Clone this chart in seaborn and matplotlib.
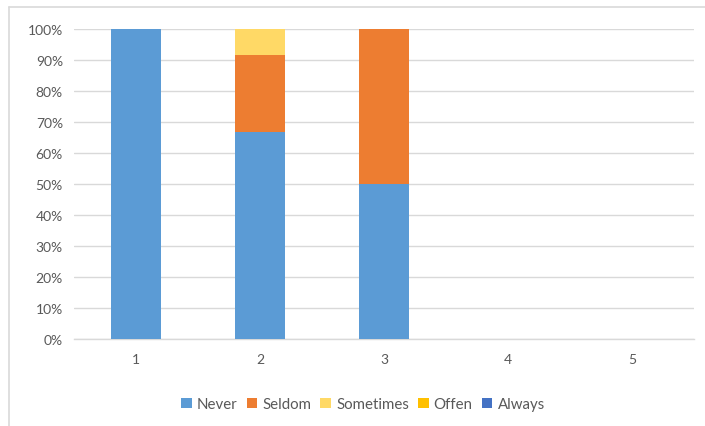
import matplotlib
matplotlib.use("Agg")
import matplotlib.pyplot as plt
import seaborn as sns
import pandas as pd
import numpy as np
from matplotlib.lines import Line2D
from matplotlib.patches import Patch

categories = ["1", "2", "3", "4", "5"]
never = [100, 66.7, 50, 0, 0]
seldom = [0, 25.0, 50, 0, 0]
sometimes = [0, 8.3, 0, 0, 0]
offen = [0, 0, 0, 0, 0]
always = [0, 0, 0, 0, 0]
series_names = ["Never", "Seldom", "Sometimes", "Offen", "Always"]
colors = ["#5B9BD5", "#ED7D31", "#FFD966", "#FFC000", "#4472C4"]

sns.set_theme(style="white")
plt.rcParams["font.family"] = ["Lato", "DejaVu Sans"]

series = [never, seldom, sometimes, offen, always]
cum = np.cumsum(np.array(series), axis=0)

fig = plt.figure(figsize=(7.05, 4.27), dpi=100)
ax = fig.add_axes([74/705, 1-340/427, 620/705, 310/427])

# draw from top of stack down so lower segments cover upper ones
for i in range(len(series) - 1, -1, -1):
    df = pd.DataFrame({"cat": categories, "val": cum[i]})
    sns.barplot(data=df, x="cat", y="val", order=categories, color=colors[i],
                saturation=1, width=0.4, ax=ax, zorder=3, errorbar=None,
                linewidth=0, edgecolor="none")

ax.set_ylim(0, 100)
ax.set_xlim(-0.5, 4.5)
ax.set_yticks(np.arange(0, 101, 10))
ax.set_yticklabels([f"{v}%" for v in range(0, 101, 10)])
ax.yaxis.grid(True, color="#D9D9D9", linewidth=1, zorder=0)
ax.set_axisbelow(True)
for s in ["top", "right", "left"]:
    ax.spines[s].set_visible(False)
ax.spines["bottom"].set_color("#D9D9D9")
ax.spines["bottom"].set_linewidth(1)
ax.tick_params(axis="both", colors="#595959", labelsize=10, length=0)
ax.tick_params(axis="y", pad=8)
ax.tick_params(axis="x", pad=10)
ax.set_xlabel("")
ax.set_ylabel("")

handles = [Patch(facecolor=c, edgecolor="none") for c in colors]
leg = fig.legend(handles, series_names, loc="center", bbox_to_anchor=(363/705, 1-405/427),
                 ncol=5, frameon=False, fontsize=10.8, handlelength=0.7, handleheight=0.7,
                 handletextpad=0.35, columnspacing=0.6, labelcolor="#595959")

# chart frame lines (top and left)
fig.add_artist(Line2D([8.5/705, 1], [1-7.5/427, 1-7.5/427], color="#D9D9D9", lw=1.2, transform=fig.transFigure))
fig.add_artist(Line2D([8.5/705, 8.5/705], [0, 1-7.5/427], color="#D9D9D9", lw=1.2, transform=fig.transFigure))

fig.savefig("out.png", dpi=100)
